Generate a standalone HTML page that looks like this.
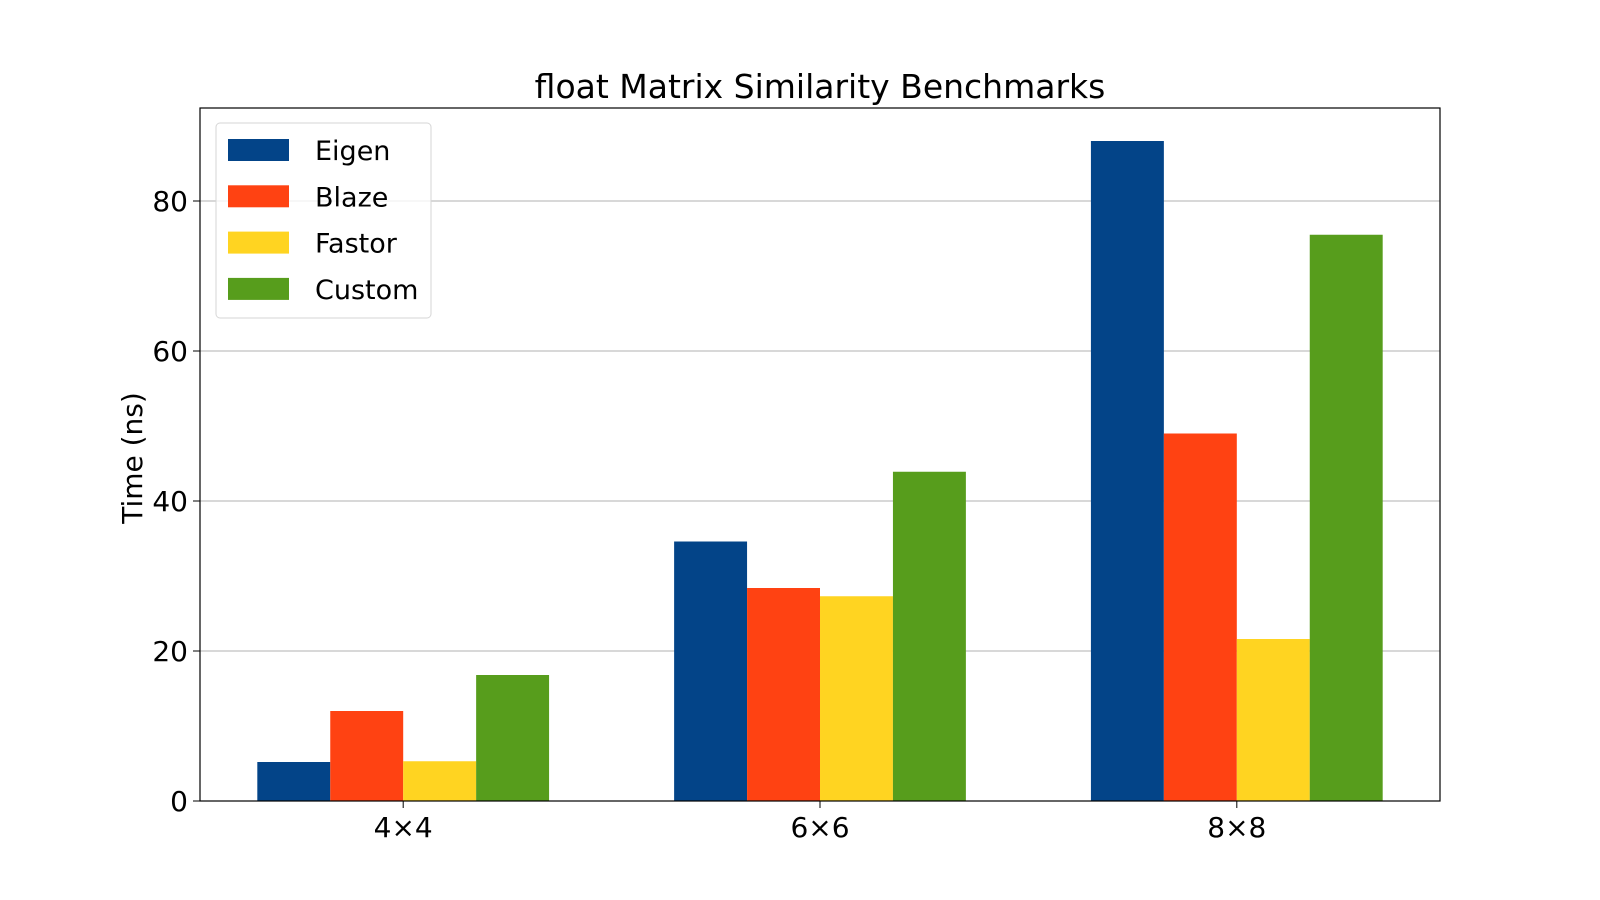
<!DOCTYPE html>
<html><head><meta charset="utf-8"><style>
body{margin:0;background:#fff}
svg{display:block;font-family:"DejaVu Sans","Liberation Sans",sans-serif}
</style></head><body>
<svg id="chart" width="1600" height="900" viewBox="0 0 1600 900">
<rect width="1600" height="900" fill="#fff"/>
<g id="grid"></g><g id="bars"></g><g id="axes"></g><g id="legend"></g>
</svg>
<script>
const categories = ["4×4","6×6","8×8"];
const seriesNames = ["Eigen","Blaze","Fastor","Custom"];
const eigen = [5.2, 34.6, 88.0];
const blaze = [12.0, 28.4, 49.0];
const fastor = [5.3, 27.3, 21.6];
const custom = [16.8, 43.9, 75.5];
const yTicks = [0, 20, 40, 60, 80];
const colors = ["#034488","#ff4212","#ffd421","#579d1c"];
const series = [eigen, blaze, fastor, custom];

const NS = "http://www.w3.org/2000/svg";
const L=200,R=1440,T=108,B=801;
const xmin=-0.4875,xmax=2.4875,ymin=0,ymax=92.4;
const xs=v=>L+(v-xmin)/(xmax-xmin)*(R-L);
const ys=v=>B-(v-ymin)/(ymax-ymin)*(B-T);
const bw=0.175;
function mk(tag,attrs,parent,text){const e=document.createElementNS(NS,tag);for(const k in attrs)e.setAttribute(k,attrs[k]);if(text!==undefined)e.textContent=text;parent.appendChild(e);return e;}
const grid=document.getElementById('grid'),bars=document.getElementById('bars'),axes=document.getElementById('axes'),legend=document.getElementById('legend');

yTicks.forEach(t=>{
  const y=ys(t);
  if(t>0){const g=mk('line',{x1:L,x2:R,y1:y,y2:y,stroke:'#b0b0b0','stroke-width':1},grid);
  
  }
  mk('line',{x1:L-7,x2:L,y1:y,y2:y,stroke:'#000','stroke-width':1},axes);
  const tx=mk('text',{x:L-12,y:y+10,'text-anchor':'end','font-size':28,fill:'#000'},axes,String(t));
  
  
});

series.forEach((vals,si)=>{
  vals.forEach((v,ci)=>{
    const x0=xs(ci+(si-2)*bw), x1=xs(ci+(si-1)*bw);
    const r=mk('rect',{x:x0,y:ys(v),width:x1-x0,height:ys(0)-ys(v),fill:colors[si]},bars);
    
    
  });
});

categories.forEach((c,ci)=>{
  const x=xs(ci);
  mk('line',{x1:x,x2:x,y1:B,y2:B+7,stroke:'#000','stroke-width':1},axes);
  const t=mk('text',{x:x,y:B+36,'text-anchor':'middle','font-size':28,fill:'#000'},axes,c);
  
  
});

const frame=mk('rect',{x:L,y:T,width:R-L,height:B-T,fill:'none',stroke:'#000','stroke-width':1.2},axes);



const title=mk('text',{x:(L+R)/2,y:98,'text-anchor':'middle','font-size':33,fill:'#000'},axes,'float Matrix Similarity Benchmarks');


const yl=mk('text',{x:0,y:0,'text-anchor':'middle','font-size':28,fill:'#000',transform:'translate(142,458) rotate(-90)'},axes,'Time (ns)');



const lb=mk('rect',{x:216,y:123,width:215,height:195,rx:4,fill:'#fff','fill-opacity':0.8,stroke:'#d6d6d6','stroke-width':1},legend);


seriesNames.forEach((n,i)=>{
  const cy=150+i*46.3;
  const sw=mk('rect',{x:228,y:cy-11,width:61,height:22,fill:colors[i]},legend);
  
  
  const t=mk('text',{x:315,y:cy+10,'font-size':27,fill:'#000'},legend,n);
  
  
});
</script>
</body></html>
